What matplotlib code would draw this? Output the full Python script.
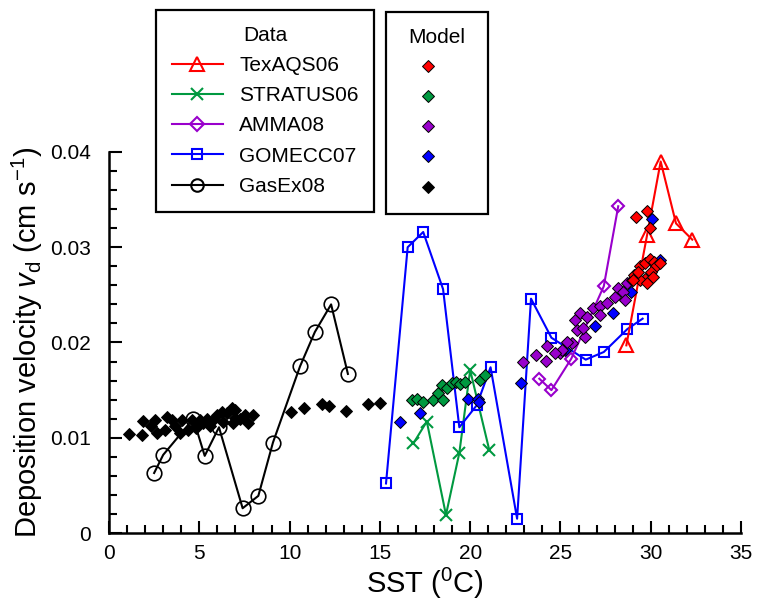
import matplotlib
matplotlib.use("Agg")
import matplotlib.pyplot as plt
from matplotlib.lines import Line2D
from matplotlib.ticker import MultipleLocator

plt.rcParams['font.family'] = ['Liberation Sans', 'DejaVu Sans']
plt.rcParams['mathtext.fontset'] = 'custom'
plt.rcParams['mathtext.rm'] = 'Liberation Sans'
plt.rcParams['mathtext.it'] = 'Liberation Sans:italic'

# measured data (lines with open markers)
tex_sst = [28.65, 29.8, 30.55, 31.4, 32.3]
tex_vd = [0.0197, 0.0313, 0.0390, 0.0325, 0.0308]

strat_sst = [16.85, 17.6, 18.66, 19.4, 20.0, 21.06]
strat_vd = [0.0094, 0.0117, 0.0019, 0.0084, 0.0171, 0.0087]

amma_sst = [23.83, 24.5, 25.6, 27.4, 28.2]
amma_vd = [0.0162, 0.0150, 0.0183, 0.0259, 0.0343]

gom_sst = [15.34, 16.54, 17.4, 18.5, 19.4, 20.36, 21.13, 22.6, 23.37,
           24.5, 26.4, 27.4, 28.7, 29.55]
gom_vd = [0.0052, 0.0300, 0.0316, 0.0256, 0.0111, 0.0134, 0.0174, 0.0015,
          0.0246, 0.0205, 0.0182, 0.0190, 0.0214, 0.0225]

gas_sst = [2.5, 3.0, 4.67, 5.3, 6.09, 7.4, 8.27, 9.08, 10.58, 11.4, 12.3, 13.23]
gas_vd = [0.0063, 0.0082, 0.0120, 0.0081, 0.0111, 0.0026, 0.0039, 0.0095,
          0.0175, 0.0211, 0.0240, 0.0167]

# model values (filled diamonds)
m_gas_sst = [1.13, 1.81, 1.86, 2.55, 2.64, 3.19, 3.1, 3.47, 3.65, 3.93, 4.02,
             4.39, 4.58, 5.04, 5.22, 5.41, 5.78, 5.96, 6.24, 6.52, 6.79, 6.98,
             6.88, 7.25, 7.53, 7.71, 7.99, 2.3, 4.8, 5.6, 6.3, 7.0,
             10.1, 10.8, 11.8, 12.2, 13.1, 14.36, 15.0]
m_gas_vd = [0.0104, 0.0103, 0.0118, 0.0119, 0.0105, 0.0122, 0.0108, 0.0119,
            0.0112, 0.0105, 0.0119, 0.0108, 0.0119, 0.0119, 0.0115, 0.0120,
            0.0119, 0.0124, 0.0127, 0.0126, 0.0131, 0.0129, 0.0115, 0.0120,
            0.0124, 0.0115, 0.0124, 0.0112, 0.0110, 0.0112, 0.0117, 0.0121,
            0.0127, 0.0131, 0.0135, 0.0133, 0.0128, 0.0135, 0.0136]

m_strat_sst = [16.76, 17.04, 17.4, 17.96, 18.23, 18.42, 18.5, 18.7, 18.98,
               19.2, 19.43, 19.71, 20.54, 20.82]
m_strat_vd = [0.0140, 0.0141, 0.0138, 0.0140, 0.0147, 0.0155, 0.0140, 0.0152,
              0.0157, 0.0159, 0.0156, 0.0159, 0.0161, 0.0166]

m_gom_sst = [16.1, 17.2, 19.9, 20.45, 20.5, 22.8, 25.25, 26.9, 27.9, 28.9,
             30.5, 30.05]
m_gom_vd = [0.0117, 0.0126, 0.0141, 0.0141, 0.0138, 0.0157, 0.0192, 0.0217,
            0.0231, 0.0253, 0.0287, 0.0330]

m_amma_sst = [22.94, 23.64, 24.2, 24.23, 24.97, 25.62, 25.9, 25.8, 26.08,
              26.45, 26.35, 26.8, 27.19, 27.19, 27.56, 28.0, 28.2, 28.48,
              28.66, 28.94, 28.57, 26.26, 25.34, 25.06, 24.7]
m_amma_vd = [0.0180, 0.0187, 0.0181, 0.0196, 0.0189, 0.0199, 0.0213, 0.0224,
             0.0231, 0.0227, 0.0206, 0.0236, 0.0238, 0.0229, 0.0241, 0.0248,
             0.0257, 0.0253, 0.0262, 0.0266, 0.0245, 0.0215, 0.0201, 0.0192,
             0.0189]

m_tex_sst = [29.1, 29.4, 29.7, 29.96, 30.2, 30.3, 30.0, 29.7, 29.4, 29.77,
             29.3, 30.14, 29.0, 30.5, 29.2, 29.8, 29.96]
m_tex_vd = [0.0271, 0.0280, 0.0283, 0.0288, 0.0285, 0.0280, 0.0274, 0.0267,
            0.0266, 0.0262, 0.0274, 0.0269, 0.0266, 0.0283, 0.0332, 0.0338,
            0.0320]

data_labels = ["TexAQS06", "STRATUS06", "AMMA08", "GOMECC07", "GasEx08"]
xticks = [0, 5, 10, 15, 20, 25, 30, 35]
xtick_labels = ["0", "5", "10", "15", "20", "25", "30", "35"]
yticks = [0, 0.01, 0.02, 0.03, 0.04]
ytick_labels = ["0", "0.01", "0.02", "0.03", "0.04"]

RED = '#ff0000'
GREEN = '#009940'
PURPLE = '#9900cc'
BLUE = '#0000ff'
BLACK = '#000000'

fig = plt.figure(figsize=(7.58, 6.05), dpi=100)
ax = fig.add_axes([0.1438, 0.119, 0.8338, 0.6298])

lw = 1.5
ax.plot(gas_sst, gas_vd, color=BLACK, lw=lw, marker='o', ms=10.5, mfc='none', mew=1.2, clip_on=False)
ax.plot(strat_sst, strat_vd, color=GREEN, lw=lw, marker='x', ms=8.5, mew=1.5, clip_on=False)
ax.plot(gom_sst, gom_vd, color=BLUE, lw=lw, marker='s', ms=6.5, mfc='none', mew=1.5, clip_on=False)
ax.plot(amma_sst, amma_vd, color=PURPLE, lw=lw, marker='D', ms=6.5, mfc='none', mew=1.5, clip_on=False)
ax.plot(tex_sst, tex_vd, color=RED, lw=lw, marker='^', ms=10.5, mfc='none', mew=1.5, clip_on=False)

dkw = dict(ls='none', marker='D', ms=6.5, mec='black', mew=0.7, clip_on=False)
ax.plot(m_gas_sst, m_gas_vd, mfc=BLACK, **dkw)
ax.plot(m_strat_sst, m_strat_vd, mfc=GREEN, **dkw)
ax.plot(m_gom_sst, m_gom_vd, mfc=BLUE, **dkw)
ax.plot(m_amma_sst, m_amma_vd, mfc=PURPLE, **dkw)
ax.plot(m_tex_sst, m_tex_vd, mfc=RED, **dkw)

ax.set_xlim(0, 35)
ax.set_ylim(0, 0.04)
ax.set_xticks(xticks)
ax.set_xticklabels(xtick_labels)
ax.set_yticks(yticks)
ax.set_yticklabels(ytick_labels)
ax.xaxis.set_minor_locator(MultipleLocator(1))
ax.yaxis.set_minor_locator(MultipleLocator(0.002))
ax.tick_params(which='both', direction='in', width=1.5, colors='black')
ax.tick_params(which='major', length=9)
ax.tick_params(which='minor', length=5.5)
ax.tick_params(axis='x', which='both', labelsize=15, pad=8)
ax.tick_params(axis='y', which='both', labelsize=15, pad=13)
for s in ['top', 'right']:
    ax.spines[s].set_visible(False)
for s in ['left', 'bottom']:
    ax.spines[s].set_linewidth(1.8)

ax.set_xlabel(r'SST ($^\mathrm{0}$C)', fontsize=21, labelpad=2)
ax.set_ylabel(r'Deposition velocity $\mathit{v}_\mathrm{d}$ (cm s$^\mathrm{-1}$)', fontsize=21, labelpad=4)

# legends
colors = [RED, GREEN, PURPLE, BLUE, BLACK]
mk = ['^', 'x', 'D', 's', 'o']
msz = [10, 8, 7, 7, 9]
data_handles = [Line2D([], [], color=c, lw=lw, marker=m, ms=s, mfc='none', mew=1.5)
                for c, m, s in zip(colors, mk, msz)]
model_handles = [Line2D([], [], ls='none', marker='D', ms=6.5, mfc=c, mec='black', mew=0.7)
                 for c in colors]

common = dict(loc='upper left', bbox_transform=fig.transFigure, fontsize=15,
              title_fontsize=15, fancybox=False, framealpha=1, edgecolor='black',
              borderpad=0.75, labelspacing=0.54, numpoints=1, borderaxespad=0)
leg1 = ax.legend(data_handles, data_labels, title='Data',
                 bbox_to_anchor=(156 / 758, 1 - 10 / 605),
                 handlelength=2.45, handletextpad=0.8, **common)
leg1.get_frame().set_linewidth(1.6)
ax.add_artist(leg1)
leg2 = ax.legend(model_handles, [''] * 5, title='Model',
                 bbox_to_anchor=(386 / 758, 1 - 12 / 605),
                 handlelength=2.54, handletextpad=0.87, **common)
leg2.get_frame().set_linewidth(1.6)

fig.savefig("out.png", dpi=100)
